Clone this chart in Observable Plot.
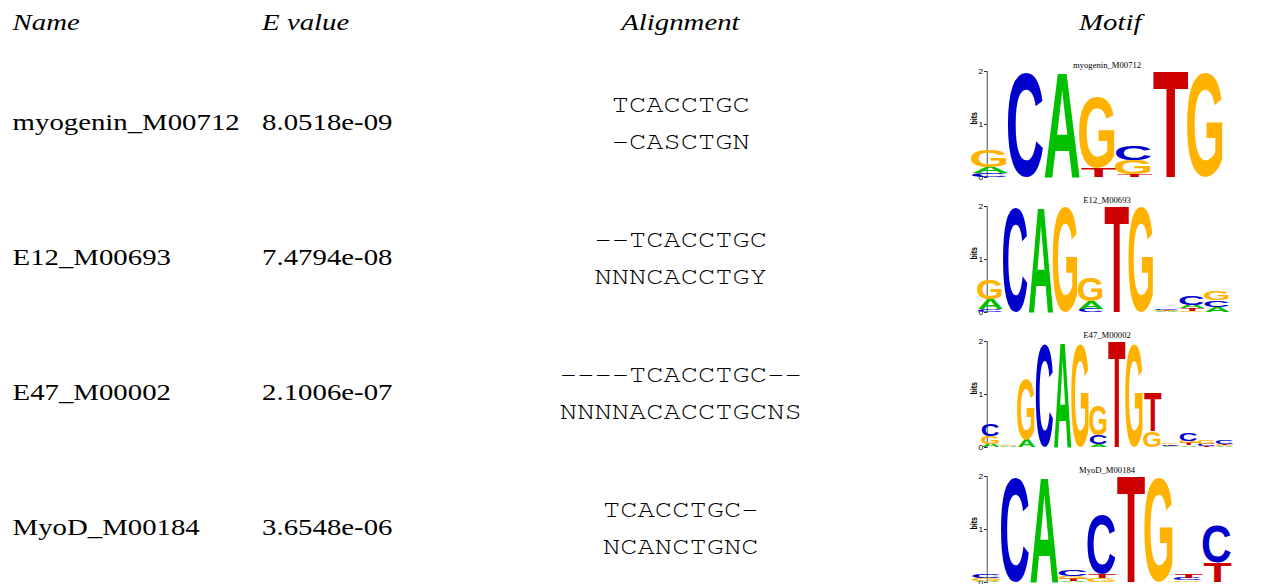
<!DOCTYPE html>
<html><head><meta charset="utf-8">
<script src="https://cdn.jsdelivr.net/npm/d3@7"></script>
<script src="https://cdn.jsdelivr.net/npm/@observablehq/plot@0.6"></script>
<style>
html,body{margin:0;padding:0;background:#fff;overflow:hidden;width:1262px;height:584px}
#wrap{position:absolute;left:0;top:0;width:1052px;height:584px;transform:scaleX(1.1996);transform-origin:0 0}
#wrap svg{position:absolute;display:block;left:0;top:0}
</style></head><body><div id="wrap"></div>
<script>
// ---- table data ----
const headers = ["Name", "E value", "Alignment", "Motif"];
const names = ["myogenin_M00712", "E12_M00693", "E47_M00002", "MyoD_M00184"];
const evalues = ["8.0518e-09", "7.4794e-08", "2.1006e-07", "3.6548e-06"];
const queryAlign = ["TCACCTGC", "--TCACCTGC", "----TCACCTGC--", "TCACCTGC-"];
const targetAlign = ["-CASCTGN", "NNNCACCTGY", "NNNNACACCTGCNS", "NCANCTGNC"];

// ---- motif logos: information (bits) per letter per column ----
const myogenin_A = [0.12, 0, 1.99, 0, 0, 0, 0];
const myogenin_C = [0.07, 1.97, 0, 0, 0.27, 0, 0];
const myogenin_G = [0.33, 0, 0, 1.33, 0.26, 0, 1.97];
const myogenin_T = [0, 0, 0, 0.17, 0.05, 2.0, 0];

const e12_A = [0.19, 0, 1.98, 0, 0.14, 0, 0, 0.01, 0.06, 0.10];
const e12_C = [0.05, 1.96, 0, 0, 0.06, 0, 0, 0.02, 0.16, 0.13];
const e12_G = [0.38, 0, 0, 1.98, 0.45, 0, 1.98, 0.015, 0.02, 0.16];
const e12_T = [0, 0, 0, 0, 0, 2.0, 0, 0.01, 0.05, 0];

const e47_A = [0.06, 0.015, 0.14, 0, 1.98, 0, 0.05, 0, 0, 0, 0.01, 0.03, 0, 0.01];
const e47_C = [0.22, 0, 0, 1.95, 0, 0, 0.16, 0, 0, 0, 0.03, 0.14, 0.04, 0.06];
const e47_G = [0.14, 0.02, 1.14, 0, 0, 1.95, 0.57, 0, 1.95, 0.30, 0.03, 0.05, 0.06, 0.02];
const e47_T = [0, 0, 0, 0, 0, 0, 0, 2.0, 0, 0.73, 0.01, 0.04, 0.02, 0.03];

const myod_A = [0.02, 0, 1.98, 0.02, 0, 0, 0, 0, 0];
const myod_C = [0.08, 1.96, 0, 0.13, 1.11, 0, 0, 0.04, 0.70];
const myod_G = [0.05, 0, 0, 0.05, 0.07, 0, 1.96, 0.03, 0];
const myod_T = [0, 0, 0, 0.04, 0.08, 2.0, 0, 0.06, 0.36];

const logos = [
  {A: myogenin_A, C: myogenin_C, G: myogenin_G, T: myogenin_T},
  {A: e12_A, C: e12_C, G: e12_G, T: e12_T},
  {A: e47_A, C: e47_C, G: e47_G, T: e47_T},
  {A: myod_A, C: myod_C, G: myod_G, T: myod_T}
];
const letterColors = {A: "#00c000", C: "#0000cc", G: "#ffb300", T: "#cc0000"};

const SERIF = "'Liberation Serif','Times New Roman',Times,serif";
const MONO = "FreeMono,'Nimbus Mono PS','Nimbus Mono L','Courier 10 Pitch','Liberation Mono',monospace";
const SANS = "'Liberation Sans',Arial,Helvetica,sans-serif";

// glyph ink metrics for stretching letters
const ctx2d = document.createElement("canvas").getContext("2d");
ctx2d.font = "bold 100px 'Liberation Sans', Arial, sans-serif";
const metrics = {};
for (const L of "ACGT") {
  const m = ctx2d.measureText(L);
  let l = m.actualBoundingBoxLeft, r = m.actualBoundingBoxRight, a = m.actualBoundingBoxAscent, d = m.actualBoundingBoxDescent;
  if (!(r > 0) || !(a > 0)) { l = -5; r = 70; a = 72; d = 1; }
  metrics[L] = {l, r, a, d};
}

function stackRows(logo) {
  const n = logo.A.length, rows = [];
  for (let j = 0; j < n; j++) {
    const col = ["A", "C", "G", "T"].map(L => ({L, h: logo[L][j]})).filter(e => e.h > 0)
      .sort((a, b) => a.h - b.h);
    let acc = 0;
    for (const e of col) { rows.push({pos: j + 1, letter: e.L, y1: acc, y2: acc + e.h}); acc += e.h; }
  }
  return rows;
}

const wrap = document.getElementById("wrap");

// ---- table ----
const table = Plot.plot({
  width: 1052, height: 584,
  margin: 0,
  style: {fontFamily: SERIF, fontSize: "24px", background: "transparent", color: "black"},
  y: {type: "point", domain: names, range: [122.5, 529], padding: 0, axis: null},
  marks: [
    Plot.text([headers[0]], {frameAnchor: "top-left", dx: 10, dy: 29, lineAnchor: "bottom", textAnchor: "start", fontStyle: "italic", fontSize: 24}),
    Plot.text([headers[1]], {frameAnchor: "top-left", dx: 218, dy: 29, lineAnchor: "bottom", textAnchor: "start", fontStyle: "italic", fontSize: 24}),
    Plot.text([headers[2]], {frameAnchor: "top-left", dx: 566.7, dy: 29, lineAnchor: "bottom", textAnchor: "middle", fontStyle: "italic", fontSize: 24}),
    Plot.text([headers[3]], {frameAnchor: "top-left", dx: 925, dy: 29, lineAnchor: "bottom", textAnchor: "middle", fontStyle: "italic", fontSize: 24}),
    Plot.text(names, {y: d => d, frameAnchor: "left", dx: 10, dy: -0.7, textAnchor: "start", fontSize: 24}),
    Plot.text(evalues, {y: (d, i) => names[i], frameAnchor: "left", dx: 218, dy: -0.7, textAnchor: "start", fontSize: 24}),
    Plot.text(queryAlign.map((q, i) => q + "\n" + targetAlign[i]), {
      y: (d, i) => names[i], frameAnchor: "left", dx: 567, dy: -4.5, textAnchor: "middle",
      lineHeight: 37 / 24, fontSize: 24, fontFamily: MONO
    })
  ]
});
wrap.appendChild(table);
const yRow = table.scale("y");

// ---- logos ----
const LOGO_TOP = 14, LOGO_H = 106, LOGO_BOTTOM = 4, LOGO_W = 245;
logos.forEach((logo, k) => {
  const rows = stackRows(logo);
  const n = logo.A.length;
  const svg = Plot.plot({
    width: LOGO_W, height: LOGO_TOP + LOGO_H + LOGO_BOTTOM,
    marginLeft: 22.5, marginRight: 6, marginTop: LOGO_TOP, marginBottom: LOGO_BOTTOM,
    style: {fontFamily: SANS, background: "transparent", color: "black"},
    x: {type: "band", domain: d3.range(1, n + 1), padding: 0, axis: null},
    y: {domain: [0, 2]},
    marks: [
      Plot.axisY({ticks: [0, 1, 2], tickFormat: d3.format("d"), tickSize: 2, tickPadding: 1.5, fontSize: 7, label: null}),
      Plot.frame({anchor: "left", stroke: "#666"}),
      Plot.text(["bits"], {frameAnchor: "left", rotate: -90, dx: -11, fontSize: 7, fontWeight: "bold", fontFamily: SANS}),
      Plot.text([names[k]], {
        frameAnchor: "top", dx: -8.3, dy: -3.5, lineAnchor: "bottom", fontSize: 9, fontFamily: SERIF,
        render(index, scales, values, dims, context, next) {
          const g = next(index, scales, values, dims, context);
          const cx = dims.width / 2;
          const w = d3.create("svg:g").attr("transform", `translate(${cx},0) scale(0.8,1) translate(${-cx},0)`);
          w.node().appendChild(g);
          return w.node();
        }
      }),
      Plot.text(rows, {
        x: "pos", y: "y2", text: "letter",
        render(index, scales) {
          const g = d3.create("svg:g").attr("aria-label", "logo letters");
          const bw = scales.x.bandwidth();
          const pad = 0.3;
          for (const i of index) {
            const d = rows[i];
            const x0 = scales.x(d.pos) + pad, w = bw - 2 * pad;
            const yt = scales.y(d.y2), yb = scales.y(d.y1), h = yb - yt;
            if (!(h > 0)) continue;
            const m = metrics[d.letter];
            const sx = w / (m.l + m.r), sy = h / (m.a + m.d);
            g.append("text")
              .attr("font-family", SANS).attr("font-weight", "bold").attr("font-size", 100)
              .attr("fill", letterColors[d.letter])
              .attr("transform", `translate(${x0 + m.l * sx},${yt + m.a * sy}) scale(${sx},${sy})`)
              .text(d.letter);
          }
          return g.node();
        }
      })
    ]
  });
  svg.style.left = "800px";
  svg.style.top = (yRow.apply(names[k]) - 52 - LOGO_TOP) + "px";
  wrap.appendChild(svg);
});
</script>
</body></html>
